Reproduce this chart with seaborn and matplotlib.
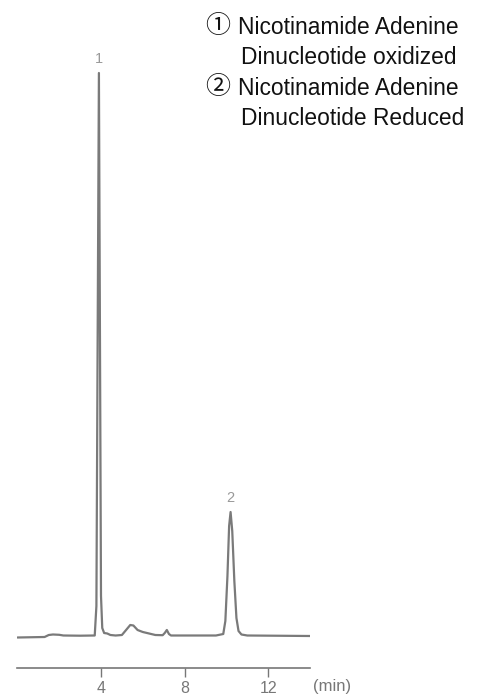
"""
plot.py
Chromatogram of NAD oxidized / reduced, redrawn with seaborn.
"""

import matplotlib
matplotlib.use("Agg")
import matplotlib.pyplot as plt
import seaborn as sns
import pandas as pd

# retention time (min) and detector signal (arbitrary units above baseline)
times = [0.0, 1.3, 1.5, 1.7, 2.0, 2.2, 3.0, 3.7, 3.78, 3.84, 3.9, 3.95, 4.0,
         4.06, 4.15, 4.3, 4.45, 4.7, 5.0, 5.2, 5.4, 5.55, 5.75, 6.0, 6.3,
         6.6, 6.95, 7.05, 7.15, 7.25, 7.35, 8.0, 9.5, 9.85, 9.95, 10.05,
         10.13, 10.2, 10.28, 10.38, 10.48, 10.58, 10.72, 11.0, 14.0]
signal = [-1.5, -1.0, 1.0, 1.5, 1.2, 0.5, 0.3, 0.5, 30, 300, 563, 300, 40,
          8, 3, 2.5, 1.0, 0.5, 1.0, 6, 11, 10.5, 6, 4, 2.5,
          1.0, 0.8, 3, 6, 2, 0.5, 0.5, 0.5, 2, 15, 60,
          110, 124, 105, 55, 18, 5, 1.5, 0.5, 0.0]

peak_ids = ["1", "2"]
peak_times = [3.9, 10.2]
peak_heights = [563, 124]

x_ticks = [4, 8, 12]

legend_marks = ["\u2460", "\u2461"]
legend_names = [("Nicotinamide Adenine", "Dinucleotide oxidized"),
                ("Nicotinamide Adenine", "Dinucleotide Reduced")]

sns.set_style("white")
plt.rcParams["font.family"] = ["Liberation Sans", "Noto Sans CJK JP", "DejaVu Sans"]

W, H = 497, 696
fig = plt.figure(figsize=(W / 100, H / 100), dpi=100)
# axes spans the time axis line (px 17..310 wide, bottom at y=668)
ax = fig.add_axes([17.4 / W, (H - 668) / H, 292.6 / W, 632 / H])

df = pd.DataFrame({"time": times, "signal": signal})
sns.lineplot(data=df, x="time", y="signal", ax=ax, color="#7a7a7a",
             linewidth=1.6, errorbar=None)

ax.set_xlim(0, 14)
ax.set_ylim(-32, 600)
ax.set_xlabel("")
ax.set_ylabel("")
ax.set_yticks([])
ax.set_xticks(x_ticks)
ax.set_xticklabels([str(t) for t in x_ticks])
ax.tick_params(axis="x", direction="out", length=6.8, width=1.0,
               color="#777777", labelcolor="#777777", labelsize=11.5, pad=2.5,
               bottom=True)
for side in ["top", "left", "right"]:
    ax.spines[side].set_visible(False)
ax.spines["bottom"].set_color("#777777")
ax.spines["bottom"].set_linewidth(1.2)

for pid, pt, ph in zip(peak_ids, peak_times, peak_heights):
    ax.text(pt, ph + 7, pid, ha="center", va="bottom", fontsize=10.5,
            color="#999999")

fig.text(313 / W, (H - 687) / H, "(min)", ha="left", va="center",
         fontsize=12, color="#777777")

# compound key, top right
baselines = [34, 64, 95, 125]
for i, (mark, (l1, l2)) in enumerate(zip(legend_marks, legend_names)):
    y1 = (H - baselines[2 * i]) / H
    y2 = (H - baselines[2 * i + 1]) / H
    fig.text(205 / W, y1 + 1 / H, mark, ha="left", va="baseline", fontsize=18,
             color="#111111", family=["Noto Sans CJK JP", "DejaVu Sans"])
    fig.text(238 / W, y1, l1, ha="left", va="baseline", fontsize=16.4,
             color="#111111")
    fig.text(241 / W, y2, l2, ha="left", va="baseline", fontsize=16.4,
             color="#111111")

fig.savefig("out.png", dpi=100)
